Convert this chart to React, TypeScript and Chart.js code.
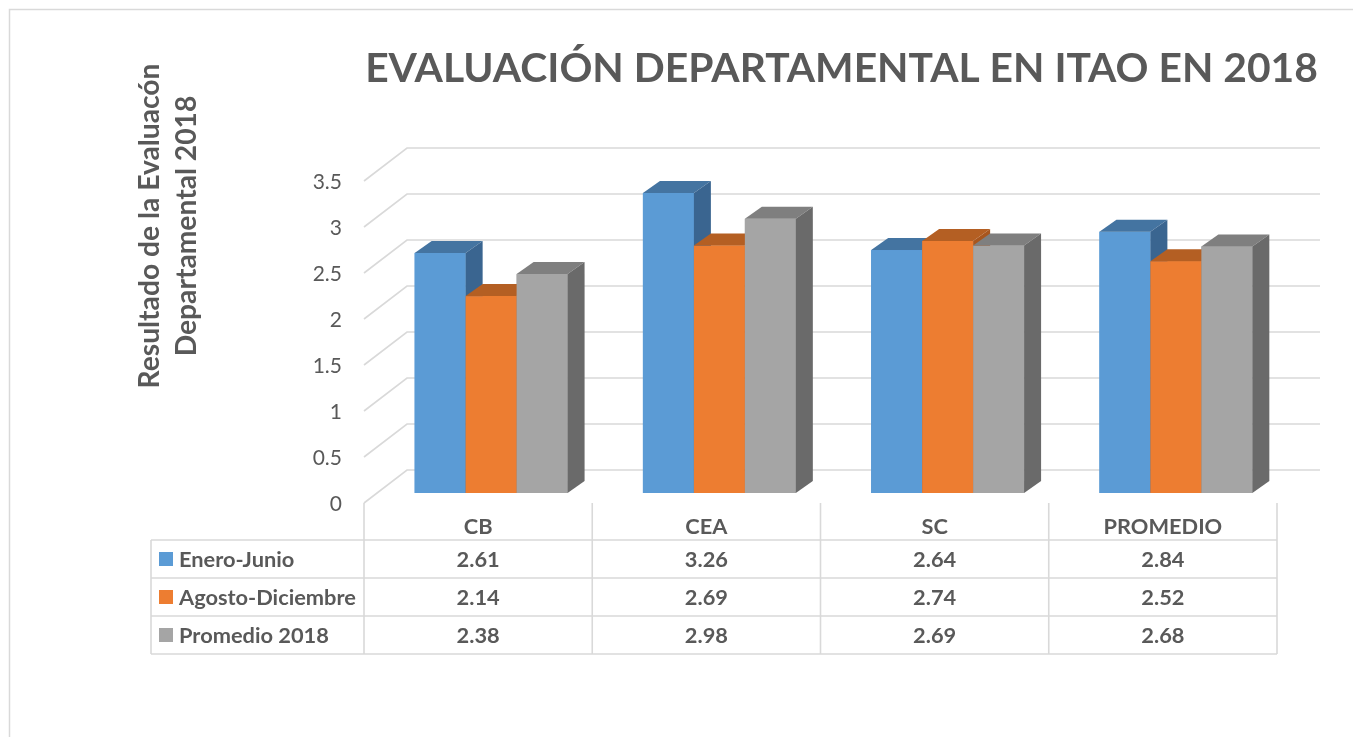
import { useEffect, useRef } from 'react';
import { Chart, registerables } from 'chart.js';

Chart.register(...registerables);

const categories = ['CB', 'CEA', 'SC', 'PROMEDIO'];
const seriesNames = ['Enero-Junio', 'Agosto-Diciembre', 'Promedio 2018'];
const eneroJunio = [2.61, 3.26, 2.64, 2.84];
const agostoDiciembre = [2.14, 2.69, 2.74, 2.52];
const promedio2018 = [2.38, 2.98, 2.69, 2.68];
const yTicks = [0, 0.5, 1, 1.5, 2, 2.5, 3, 3.5];
const yTickLabels = ['0', '0.5', '1', '1.5', '2', '2.5', '3', '3.5'];
const titleText = 'EVALUACIÓN DEPARTAMENTAL EN ITAO EN 2018';
const yTitleLines = ['Resultado de la Evaluacón', 'Departamental 2018'];

const frontColors = ['#5B9BD5', '#ED7D31', '#A5A5A5'];
const topColors = ['#4474A1', '#B45F23', '#7F7F7F'];
const sideColors = ['#3A6590', '#A8561E', '#6A6A6A'];

const FONT = 'Lato, "Open Sans", "DejaVu Sans", sans-serif';
const TEXT = '#595959';
const GRID = '#D9D9D9';

// oblique projection offsets relative to the bar plane
const FRONT_DX = -13;
const FRONT_DY = 10;
const BACK_DX = 30;
const BACK_DY = -23;
const BAR_DX = 17;
const BAR_DY = -12;

function fitSize(ctx: CanvasRenderingContext2D, text: string, weight: string, target: number, max: number) {
  ctx.font = `${weight} 100px ${FONT}`;
  const w = ctx.measureText(text).width;
  return Math.min(max, (100 * target) / w);
}

const excel3dPlugin = {
  id: 'excel3d',
  beforeDatasetsDraw(chart: any) {
    const ctx: CanvasRenderingContext2D = chart.ctx;
    const ca = chart.chartArea;
    const ys = chart.scales.y;
    const xs = chart.scales.x;
    ctx.save();

    // outer border
    ctx.strokeStyle = GRID;
    ctx.lineWidth = 1.5;
    ctx.strokeRect(9.5, 9.5, chart.width + 20, chart.height + 20);

    // title
    const tSize = fitSize(ctx, titleText, 'bold', 953, 44);
    ctx.font = `bold ${tSize}px ${FONT}`;
    ctx.fillStyle = TEXT;
    ctx.textAlign = 'center';
    ctx.textBaseline = 'alphabetic';
    ctx.fillText(titleText, 841.5, 82);

    // y axis title
    const ySize = fitSize(ctx, yTitleLines[0], 'bold', 325, 30);
    ctx.font = `bold ${ySize}px ${FONT}`;
    ctx.textBaseline = 'middle';
    const lineX = [150, 187];
    yTitleLines.forEach((line, i) => {
      ctx.save();
      ctx.translate(lineX[i], 226);
      ctx.rotate(-Math.PI / 2);
      ctx.fillText(line, 0, 0);
      ctx.restore();
    });

    // walls / gridlines
    ctx.strokeStyle = GRID;
    ctx.lineWidth = 1.6;
    yTicks.forEach((v) => {
      const p = ys.getPixelForValue(v);
      ctx.beginPath();
      ctx.moveTo(ca.left + FRONT_DX, p + FRONT_DY);
      ctx.lineTo(ca.left + BACK_DX, p + BACK_DY);
      ctx.lineTo(ca.right + BACK_DX, p + BACK_DY);
      ctx.stroke();
    });

    // tick labels
    ctx.font = `21px ${FONT}`;
    ctx.fillStyle = TEXT;
    ctx.textAlign = 'right';
    ctx.textBaseline = 'middle';
    yTicks.forEach((v, i) => {
      const p = ys.getPixelForValue(v);
      ctx.fillText(yTickLabels[i], ca.left + FRONT_DX - 22, p + FRONT_DY + 1);
    });

    // data table
    const n = categories.length;
    const catW = (ca.right - ca.left) / n;
    const bounds: number[] = [];
    for (let i = 0; i < n; i++) bounds.push(xs.getPixelForValue(i) - catW / 2 + FRONT_DX);
    bounds.push(bounds[n - 1] + catW);
    const tableTop = ys.getPixelForValue(0) + FRONT_DY;
    const headerBottom = tableTop + 37;
    const rowH = 38;
    const leftX = 151;
    const tableBottom = headerBottom + rowH * seriesNames.length;

    ctx.strokeStyle = GRID;
    ctx.lineWidth = 1.6;
    ctx.beginPath();
    bounds.forEach((bx) => {
      ctx.moveTo(bx, tableTop);
      ctx.lineTo(bx, tableBottom);
    });
    ctx.moveTo(leftX, headerBottom);
    ctx.lineTo(leftX, tableBottom);
    for (let r = 0; r <= seriesNames.length; r++) {
      const yy = headerBottom + r * rowH;
      ctx.moveTo(leftX, yy);
      ctx.lineTo(bounds[n], yy);
    }
    ctx.stroke();

    const tblSize = fitSize(ctx, seriesNames[1], 'bold', 177, 23);
    ctx.font = `bold ${tblSize}px ${FONT}`;
    ctx.fillStyle = TEXT;
    ctx.textAlign = 'center';
    ctx.textBaseline = 'middle';
    categories.forEach((c, i) => {
      ctx.fillText(c, (bounds[i] + bounds[i + 1]) / 2, headerBottom - 13);
    });
    const series = [eneroJunio, agostoDiciembre, promedio2018];
    series.forEach((vals, r) => {
      const cy = headerBottom + r * rowH + rowH / 2;
      ctx.fillStyle = frontColors[r];
      ctx.fillRect(159, cy - 7, 14, 14);
      ctx.fillStyle = TEXT;
      ctx.textAlign = 'left';
      ctx.fillText(seriesNames[r], 179, cy + 1);
      ctx.textAlign = 'center';
      vals.forEach((v, i) => {
        ctx.fillText(v.toFixed(2), (bounds[i] + bounds[i + 1]) / 2, cy + 1);
      });
    });
    ctx.restore();
  },
  afterDatasetsDraw(chart: any) {
    const ctx: CanvasRenderingContext2D = chart.ctx;
    const metas = chart.data.datasets.map((_: any, i: number) => chart.getDatasetMeta(i));
    const n = categories.length;
    ctx.save();
    for (let c = 0; c < n; c++) {
      metas.forEach((meta: any, di: number) => {
        const el = meta.data[c];
        if (!el) return;
        const { x, y, base, width } = el.getProps(['x', 'y', 'base', 'width'], true);
        const l = x - width / 2;
        const r = x + width / 2;
        // front face
        ctx.fillStyle = frontColors[di];
        ctx.fillRect(l, y, width, base - y);
        // top face
        ctx.fillStyle = topColors[di];
        ctx.beginPath();
        ctx.moveTo(l, y);
        ctx.lineTo(l + BAR_DX, y + BAR_DY);
        ctx.lineTo(r + BAR_DX, y + BAR_DY);
        ctx.lineTo(r, y);
        ctx.closePath();
        ctx.fill();
        // side face
        ctx.fillStyle = sideColors[di];
        ctx.beginPath();
        ctx.moveTo(r, y);
        ctx.lineTo(r + BAR_DX, y + BAR_DY);
        ctx.lineTo(r + BAR_DX, base + BAR_DY);
        ctx.lineTo(r, base);
        ctx.closePath();
        ctx.fill();
      });
    }
    ctx.restore();
  },
};

export default function App() {
  const ref = useRef<HTMLCanvasElement | null>(null);
  useEffect(() => {
    if (!ref.current) return;
    const series = [eneroJunio, agostoDiciembre, promedio2018];
    const chart = new Chart(ref.current, {
      type: 'bar',
      data: {
        labels: categories,
        datasets: series.map((d, i) => ({
          label: seriesNames[i],
          data: d,
          backgroundColor: frontColors[i],
          borderWidth: 0,
          categoryPercentage: 0.67,
          barPercentage: 1.0,
        })),
      },
      options: {
        responsive: false,
        animation: false,
        layout: { padding: { left: 377, right: 63, top: 171, bottom: 244 } },
        scales: {
          x: { display: false, offset: true },
          y: { display: false, min: 0, max: 3.5 },
        },
        plugins: {
          legend: { display: false },
          tooltip: { enabled: false },
          title: { display: false },
        },
      },
      plugins: [excel3dPlugin],
    });
    return () => chart.destroy();
  }, []);
  return (
    <div style={{ position: 'absolute', left: 0, top: 0, width: 1353, height: 737, background: '#fff' }}>
      <canvas ref={ref} width={1353} height={737} style={{ display: 'block' }} />
    </div>
  );
}
